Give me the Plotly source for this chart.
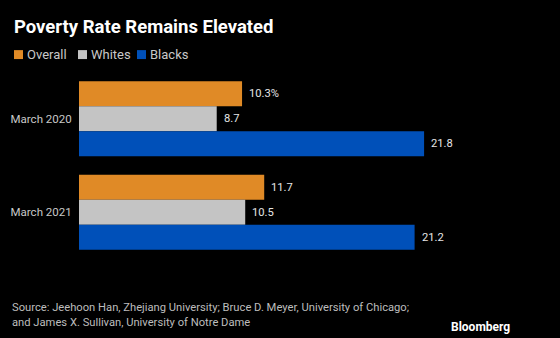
import plotly.graph_objects as go

categories = ["March 2020", "March 2021"]
series_names = ["Overall", "Whites", "Blacks"]
overall = [10.3, 11.7]
whites = [8.7, 10.5]
blacks = [21.8, 21.2]
colors = ["#E08A26", "#C4C4C4", "#0050B9"]

W, H = 560, 338
L, R, T, B = 79, 0, 71.5, 78.5
x_max = (W - L - R) / 15.83


def px(x):
    return (x - L) / (W - L - R)


def py(y):
    return 1 - (y - T) / (H - T - B)


fig = go.Figure()
values = [overall, whites, blacks]
for name, vals, col in zip(series_names, values, colors):
    fig.add_trace(go.Bar(
        y=categories, x=vals, name=name, orientation="h",
        marker=dict(color=col, line=dict(width=0)),
        showlegend=False, hoverinfo="skip",
    ))

# value labels
ann = []
n = len(series_names)
for si, vals in enumerate(values):
    for ci, v in enumerate(vals):
        txt = f"{v:.1f}" + ("%" if (si == 0 and ci == 0) else "")
        offset = (si - (n - 1) / 2) * 0.8 / n
        ann.append(dict(x=v, y=ci + offset, xref="x", yref="y", text=txt,
                        xanchor="left", yanchor="middle", xshift=5, showarrow=False,
                        font=dict(family="Roboto", size=11.2, color="#E6E6E6")))

# title
ann.append(dict(x=px(12), y=py(26), xref="paper", yref="paper", text="<b>Poverty Rate Remains Elevated</b>",
                xanchor="left", yanchor="middle", showarrow=False,
                font=dict(family="Roboto", size=18.5, color="#FFFFFF")))

# legend
shapes = []
leg_x = [14, 78, 137]
for name, col, lx in zip(series_names, colors, leg_x):
    shapes.append(dict(type="rect", xref="paper", yref="paper",
                       x0=px(lx), x1=px(lx + 9), y0=py(58.5), y1=py(49.5),
                       fillcolor=col, line=dict(width=0)))
    ann.append(dict(x=px(lx + 11), y=py(54), xref="paper", yref="paper", text=name,
                    xanchor="left", yanchor="middle", showarrow=False,
                    font=dict(family="Roboto", size=13, color="#C8C8C8")))

# source
ann.append(dict(x=px(10), y=py(316), xref="paper", yref="paper",
                text="Source: Jeehoon Han, Zhejiang University; Bruce D. Meyer, University of Chicago;<br>and James X. Sullivan, University of Notre Dame",
                xanchor="left", yanchor="middle", align="left", showarrow=False,
                font=dict(family="Roboto", size=11.2, color="#BDBDBD")))
ann.append(dict(x=px(512), y=py(328), xref="paper", yref="paper", text="<b>Bloomberg</b>",
                xanchor="right", yanchor="middle", showarrow=False,
                font=dict(family="Roboto", size=12, color="#FFFFFF")))

fig.update_layout(
    width=W, height=H,
    paper_bgcolor="#000000", plot_bgcolor="#000000",
    margin=dict(l=L, r=R, t=T, b=B),
    barmode="group", bargap=0.2, bargroupgap=0,
    xaxis=dict(range=[0, x_max], visible=False, fixedrange=True),
    yaxis=dict(autorange="reversed", showgrid=False, zeroline=False, showline=False,
               ticks="outside", ticklen=4, tickcolor="rgba(0,0,0,0)",
               tickfont=dict(family="Roboto", size=11.5, color="#C8C8C8")),
    annotations=ann, shapes=shapes,
)

fig.write_html("out.html")
